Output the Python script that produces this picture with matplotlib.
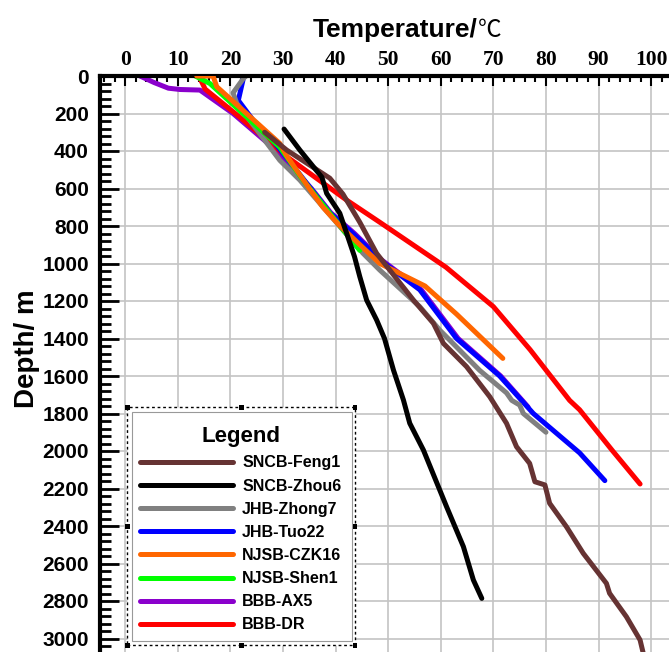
import matplotlib
matplotlib.use("Agg")
import matplotlib.pyplot as plt
from matplotlib.ticker import MultipleLocator
from matplotlib.patches import Rectangle

# well names and colours (legend order)
wells = ["SNCB-Feng1", "SNCB-Zhou6", "JHB-Zhong7", "JHB-Tuo22",
         "NJSB-CZK16", "NJSB-Shen1", "BBB-AX5", "BBB-DR"]
colors = ["#663333", "#000000", "#808080", "#0000ff",
          "#ff6600", "#00ff00", "#8a00cc", "#ff0000"]

# temperature (C) / depth (m)
feng1_t = [26.5, 30.7, 38.9, 41.4, 44.6, 47.8, 51.0, 54.8, 58.6, 60.5, 64.9, 69.3,
           72.5, 74.4, 76.9, 77.9, 79.8, 80.7, 83.9, 87.1, 91.5, 92.1, 95.3, 97.9, 98.6]
feng1_d = [300, 395, 545, 630, 780, 946, 1060, 1195, 1319, 1426, 1550, 1710,
           1852, 1977, 2066, 2164, 2181, 2279, 2404, 2546, 2706, 2759, 2884, 3008, 3090]

zhou6_t = [30.2, 33.2, 37.4, 38.3, 40.8, 42.1, 43.6, 44.6, 45.9, 47.8, 49.3, 51.0,
           52.9, 54.1, 56.7, 61.1, 64.3, 66.2, 67.8]
zhou6_d = [283, 395, 540, 626, 732, 839, 964, 1070, 1195, 1301, 1400, 1568,
           1728, 1852, 1995, 2297, 2510, 2688, 2786]

zhong7_t = [23.0, 22.5, 20.5, 21.2, 29.4, 33.2, 45.2, 48.4, 56.0, 59.8, 67.4,
            72.5, 73.5, 75.0, 75.7, 80.0]
zhong7_d = [0, 12, 90, 145, 450, 555, 945, 1035, 1230, 1355, 1570,
            1690, 1730, 1755, 1800, 1900]

tuo22_t = [22.3, 22.4, 21.5, 24.3, 27.5, 32.5, 38.9, 43.3, 48.4, 56.0, 63.0,
           71.2, 77.6, 86.4, 91.2]
tuo22_d = [0, 20, 130, 235, 325, 500, 730, 840, 980, 1140, 1400,
           1600, 1800, 2010, 2158]

czk16_t = [13.6, 16.7, 17.4, 29.4, 30.8, 35.0, 37.6, 40.5, 46.5, 48.4, 57.0, 63.0, 71.8]
czk16_d = [0, 0, 57, 360, 430, 600, 700, 790, 950, 1000, 1120, 1270, 1506]

shen1_t = [13.3, 16.1, 29.4, 33.8, 44.6]
shen1_d = [0, 40, 380, 555, 930]

ax5_t = [2.8, 5.5, 8.2, 10.4, 14.2, 20.5, 28.0, 35.4, 39.1, 43.6, 48.7,
         56.3, 63.3, 71.4, 76.6]
ax5_d = [0, 35, 65, 72, 75, 200, 380, 600, 730, 840, 980,
         1140, 1400, 1600, 1765]

dr_t = [14.0, 15.2, 21.8, 30.7, 42.0, 48.4, 61.0, 70.0, 77.0, 84.5, 86.4, 92.7, 97.9]
dr_d = [0, 70, 220, 430, 660, 780, 1020, 1230, 1460, 1730, 1780, 2000, 2176]

series = [(feng1_t, feng1_d), (zhou6_t, zhou6_d), (zhong7_t, zhong7_d),
          (tuo22_t, tuo22_d), (czk16_t, czk16_d), (shen1_t, shen1_d),
          (ax5_t, ax5_d), (dr_t, dr_d)]
zorders = [2.7, 2.8, 2.4, 2.3, 2.6, 2.5, 2.1, 2.2]

W, H = 669, 652
fig = plt.figure(figsize=(W / 100, H / 100), dpi=100)
fx = lambda px: px / W
fy = lambda py: 1 - py / H

ax = fig.add_axes([fx(100), 0, (W - 100) / W, (H - 76) / H])

lines = []
for (t, d), c, name, z in zip(series, colors, wells, zorders):
    ln, = ax.plot(t, d, color=c, lw=3.6, label=name, zorder=z,
                  solid_capstyle="round", solid_joinstyle="round")
    lines.append(ln)

ax.set_xlim(-4.8, 103.4)
ax.set_ylim(3072, 0)
ax.xaxis.set_major_locator(MultipleLocator(10))
ax.xaxis.set_minor_locator(MultipleLocator(2))
ax.yaxis.set_major_locator(MultipleLocator(200))
ax.yaxis.set_minor_locator(MultipleLocator(40))
ax.set_xticks(range(0, 101, 10))
ax.set_yticks(range(0, 3001, 200))

ax.grid(True, which="major", color="#c4c4c4", lw=1.2)
ax.set_axisbelow(True)

for s in ["right", "bottom"]:
    ax.spines[s].set_visible(False)
for s in ["top", "left"]:
    ax.spines[s].set_linewidth(3)

ax.tick_params(axis="x", which="both", direction="in", top=True, bottom=False,
               labeltop=True, labelbottom=False)
ax.tick_params(axis="x", which="major", length=7, width=1.5, pad=4)
ax.tick_params(axis="x", which="minor", length=4.5, width=1.5)
ax.tick_params(axis="y", which="both", direction="in", left=True, right=False)
ax.tick_params(axis="y", which="major", length=14, width=2, pad=8)
ax.tick_params(axis="y", which="minor", length=8, width=2)

for lab in ax.get_xticklabels():
    lab.set_fontfamily("Liberation Serif")
    lab.set_fontweight("bold")
    lab.set_fontsize(15.5)
for lab in ax.get_yticklabels():
    lab.set_fontfamily("Liberation Sans")
    lab.set_fontweight("bold")
    lab.set_fontsize(15)

# axis titles
fig.text(fx(477.5), fy(37), "Temperature/", ha="right", va="baseline",
         family="Liberation Sans", weight="bold", fontsize=19)
fig.text(fx(477.5), fy(37), "℃", ha="left", va="baseline",
         family=["Noto Sans CJK SC", "DejaVu Sans"], fontsize=17)
fig.text(fx(27), fy(349), "Depth/ m", rotation=90, ha="center", va="center",
         family="Liberation Sans", weight="bold", fontsize=20)

# legend box (dotted selection frame with handles)
x0, y0, x1, y1 = 127.3, 407.3, 355, 645
ax.add_patch(Rectangle((fx(x0), fy(y1)), fx(x1) - fx(x0), fy(y0) - fy(y1),
                       transform=fig.transFigure, facecolor="white",
                       edgecolor="black", lw=1, ls=(0, (2, 2)),
                       zorder=4, clip_on=False))
ax.add_patch(Rectangle((fx(131.7), fy(640.7)), fx(351.7) - fx(131.7),
                       fy(411.7) - fy(640.7), transform=fig.transFigure,
                       facecolor="white", edgecolor="#999999", lw=0.8,
                       zorder=4.1, clip_on=False))
xm, ym = (x0 + x1) / 2, (y0 + y1) / 2
for hx, hy in [(x0, y0), (xm, y0), (x1, y0), (x0, ym), (x1, ym),
               (x0, y1), (xm, y1), (x1, y1)]:
    ax.add_patch(Rectangle((fx(hx - 2.5), fy(hy + 2.5)), 5 / W, 5 / H,
                           transform=fig.transFigure, facecolor="black",
                           edgecolor="black", lw=0, zorder=4.2, clip_on=False))

leg = ax.legend(lines, wells, loc="upper left",
                bbox_to_anchor=(fx(135.2), fy(421.5)), bbox_transform=fig.transFigure,
                frameon=False, title="Legend",
                prop={"family": "Liberation Sans", "weight": "bold", "size": 11.5},
                title_fontproperties={"family": "Liberation Sans", "weight": "bold",
                                      "size": 16},
                handlelength=5.8, handletextpad=0.6, labelspacing=0.51,
                borderpad=0.3, borderaxespad=0)
leg.set_zorder(5)

fig.savefig("out.png", dpi=100)
